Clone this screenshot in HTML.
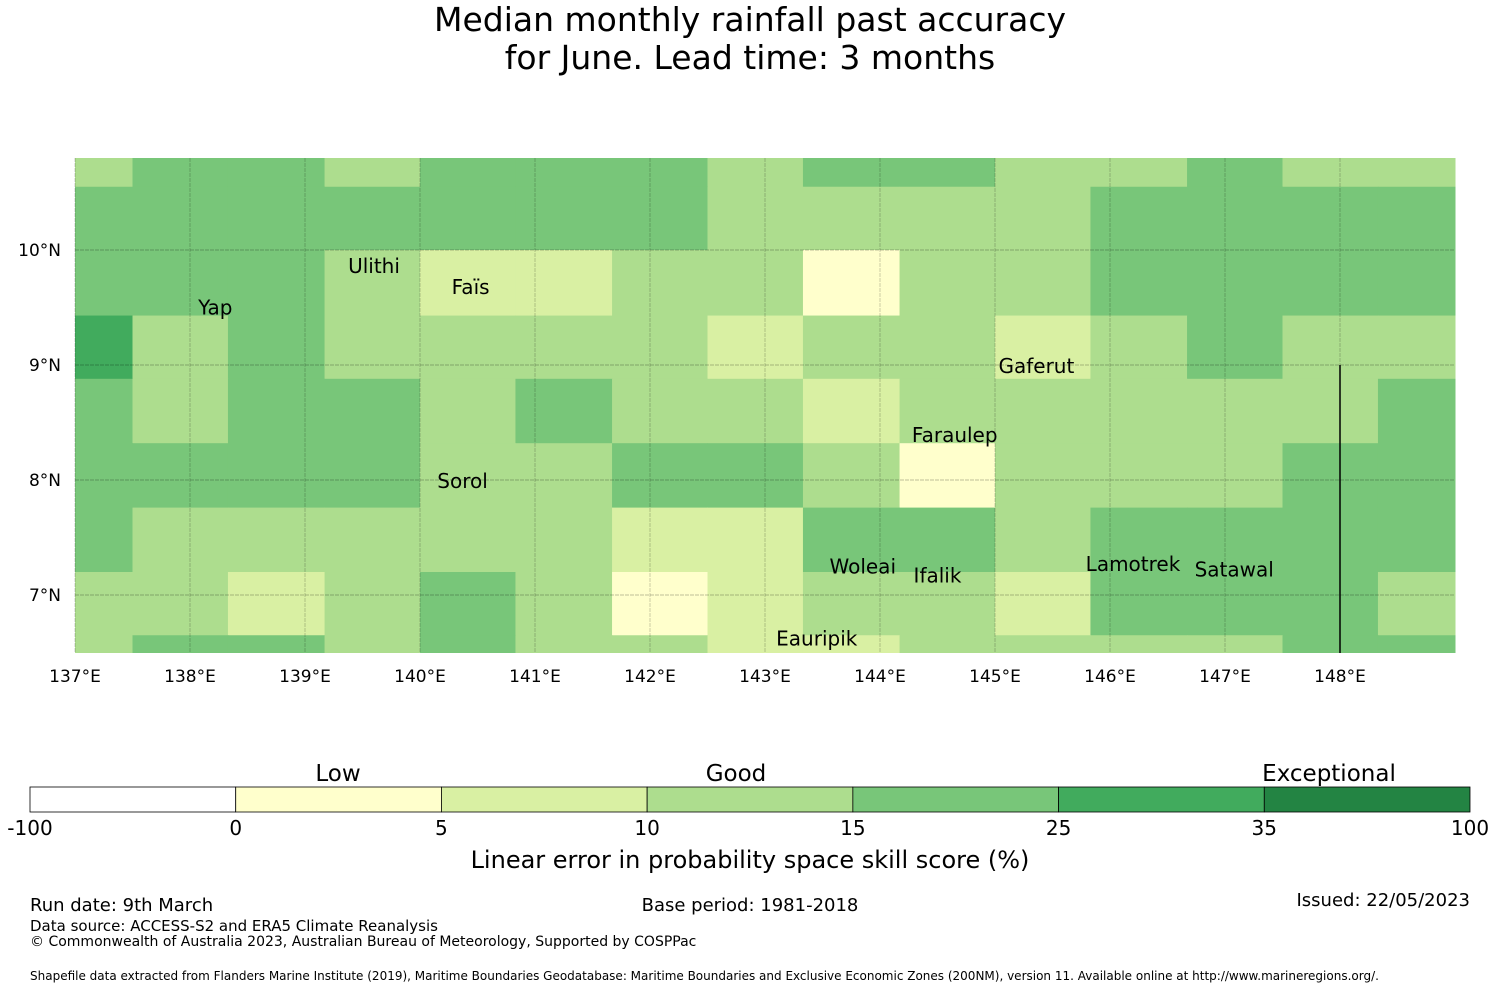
<!DOCTYPE html>
<html><head><meta charset="utf-8">
<style>
html,body{margin:0;padding:0;background:#fff;}
body{width:1500px;height:990px;overflow:hidden;font-family:"DejaVu Sans","Liberation Sans",sans-serif;}
svg text{font-family:"DejaVu Sans","Liberation Sans",sans-serif;}
</style></head>
<body>
<svg id="chart" width="1500" height="990" xmlns="http://www.w3.org/2000/svg">
<text x="750" y="31" font-size="33" text-anchor="middle">Median monthly rainfall past accuracy</text>
<text x="750" y="69" font-size="33" text-anchor="middle">for June. Lead time: 3 months</text>
<g id="cells"></g>
<g id="grid"></g>
<g id="ticks"></g>
<line x1="1340" y1="365" x2="1340" y2="653" stroke="#000" stroke-width="1.5"/>
<g id="islands" font-size="20"></g>
<g id="cbar"></g>
<text x="750" y="868" font-size="24" text-anchor="middle">Linear error in probability space skill score (%)</text>
<text x="30" y="911" font-size="18">Run date: 9th March</text>
<text x="750" y="911" font-size="18" text-anchor="middle">Base period: 1981-2018</text>
<text x="1470" y="906" font-size="18" text-anchor="end">Issued: 22/05/2023</text>
<text x="30" y="931" font-size="15">Data source: ACCESS-S2 and ERA5 Climate Reanalysis</text>
<text x="30" y="946" font-size="14">© Commonwealth of Australia 2023, Australian Bureau of Meteorology, Supported by COSPPac</text>
<text x="30" y="980" font-size="12">Shapefile data extracted from Flanders Marine Institute (2019), Maritime Boundaries Geodatabase: Maritime Boundaries and Exclusive Economic Zones (200NM), version 11. Available online at http://www.marineregions.org/.</text>
</svg>
<script>
// Column/row edges in degrees
const lonEdges = [137.0,137.5,138.33,139.17,140.0,140.83,141.67,142.5,143.33,144.17,145.0,145.83,146.67,147.5,148.33,149.0];
const latEdges = [10.8,10.55,10.0,9.43,8.88,8.32,7.76,7.2,6.65,6.5];
// skill values (%) per row (top to bottom)
const row0 = [12,20,20,12,20,20,20,12,20,20,12,12,20,12,12];
const row1 = [20,20,20,20,20,20,20,12,12,12,12,20,20,20,20];
const row2 = [20,20,20,12,8,8,12,12,3,12,12,20,20,20,20];
const row3 = [30,12,20,12,12,12,12,8,12,12,8,12,20,12,12];
const row4 = [20,12,20,20,12,20,12,12,8,12,12,12,12,12,20];
const row5 = [20,20,20,20,12,12,20,20,12,3,12,12,12,20,20];
const row6 = [20,12,12,12,12,12,8,8,20,20,12,20,20,20,20];
const row7 = [12,12,8,12,20,12,3,8,12,12,8,20,20,20,12];
const row8 = [12,20,20,12,20,12,12,8,8,12,12,12,12,20,20];
const rows = [row0,row1,row2,row3,row4,row5,row6,row7,row8];
const binEdges = [-100,0,5,10,15,25,35,100];
const binColors = ['#ffffff','#ffffcc','#d9f0a3','#addd8e','#78c679','#41ab5d','#238443'];
const lonTicks = [137,138,139,140,141,142,143,144,145,146,147,148];
const latTicks = [10,9,8,7];
const islandNames = ['Ulithi','Faïs','Yap','Gaferut','Faraulep','Sorol','Woleai','Ifalik','Lamotrek','Satawal','Eauripik'];
const islandLon = [139.6,140.44,138.22,145.36,144.65,140.37,143.85,144.5,146.2,147.08,143.45];
const islandLat = [9.86,9.68,9.5,8.99,8.39,7.99,7.25,7.17,7.27,7.22,6.62];
const cbLabels = ['-100','0','5','10','15','25','35','100'];
const cbCats = ['Low','Good','Exceptional'];

const NS='http://www.w3.org/2000/svg';
const X0=75, PX=115, LAT_TOP=10.8, Y0=158;
const xS = lon => X0 + (lon-137)*PX;
const yS = lat => Y0 + (LAT_TOP-lat)*PX;
function mk(tag, attrs, parent){const e=document.createElementNS(NS,tag);for(const k in attrs)e.setAttribute(k,attrs[k]);parent.appendChild(e);return e;}
function colorFor(v){for(let i=0;i<binColors.length;i++){if(v<binEdges[i+1])return binColors[i];}return binColors[binColors.length-1];}

const cells=document.getElementById('cells');
rows.forEach((r,ri)=>{r.forEach((v,ci)=>{
  const x1=xS(lonEdges[ci]), x2=xS(lonEdges[ci+1]), y1=yS(latEdges[ri]), y2=yS(latEdges[ri+1]);
  const rc=mk('rect',{x:x1,y:y1,width:x2-x1+0.5,height:y2-y1+0.5,fill:colorFor(v)},cells);
  
  
});});

const grid=document.getElementById('grid');
const ticks=document.getElementById('ticks');
lonTicks.forEach(l=>{
  const ln=mk('line',{x1:xS(l),y1:158,x2:xS(l),y2:653,stroke:'rgba(0,0,0,0.2)','stroke-width':1,'stroke-dasharray':'4,1'},grid);
  
  
  const t=mk('text',{x:xS(l),y:682,'font-size':17,'text-anchor':'middle'},ticks);
  t.textContent=l+'°E';
  
  
});
latTicks.forEach(l=>{
  const ln=mk('line',{x1:75,y1:yS(l),x2:1455,y2:yS(l),stroke:'rgba(0,0,0,0.25)','stroke-width':1,'stroke-dasharray':'4,1'},grid);
  
  
  const t=mk('text',{x:61,y:yS(l)+6,'font-size':17,'text-anchor':'end'},ticks);
  t.textContent=l+'°N';
  
  
});

const isl=document.getElementById('islands');
islandNames.forEach((n,i)=>{
  const t=mk('text',{x:xS(islandLon[i]),y:yS(islandLat[i])+7,'text-anchor':'middle','font-size':20},isl);
  t.textContent=n;
  
  
});

const cb=document.getElementById('cbar');
const CBX=30, CBW=1440, seg=CBW/binColors.length;
binColors.forEach((c,i)=>{
  const r=mk('rect',{x:CBX+i*seg,y:787,width:seg,height:25,fill:c,stroke:'#000','stroke-width':0.8},cb);
  
  
});
cbLabels.forEach((l,i)=>{
  const t=mk('text',{x:CBX+i*seg,y:835,'font-size':20,'text-anchor':'middle'},cb);
  t.textContent=l;
  
  
});
const catX=[338,736,1329];
cbCats.forEach((l,i)=>{
  const t=mk('text',{x:catX[i],y:781,'font-size':23,'text-anchor':'middle'},cb);
  t.textContent=l;
  
  
});
</script>
</body></html>
